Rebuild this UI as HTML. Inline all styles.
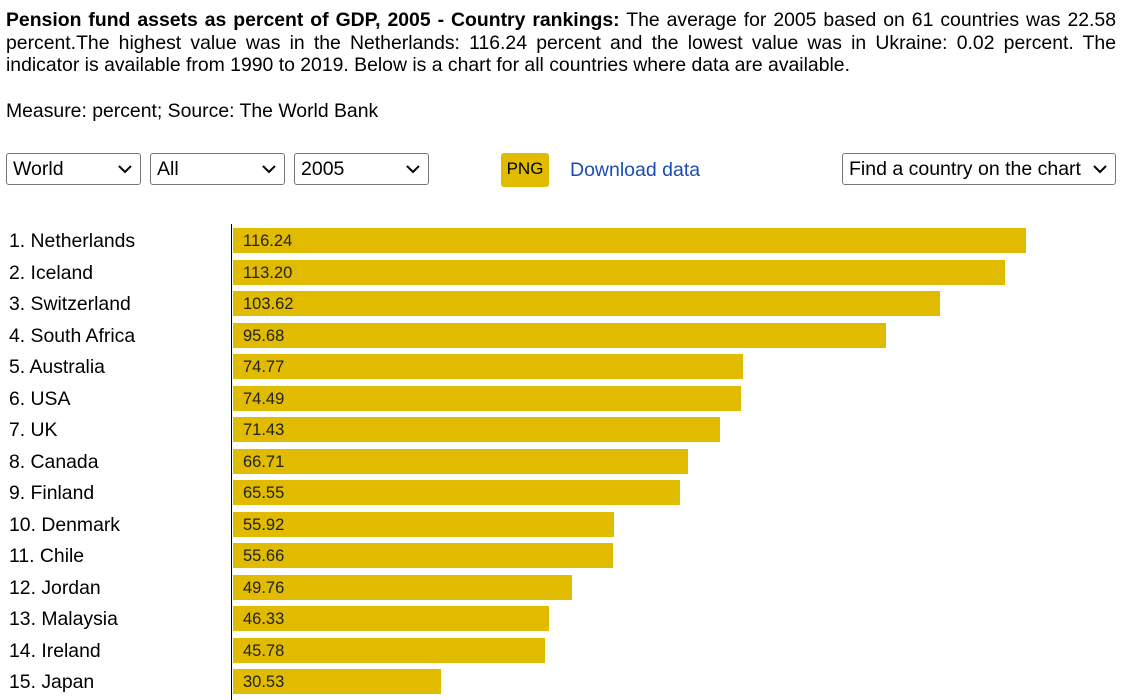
<!DOCTYPE html>
<html><head><style>
body{margin:0;width:1123px;height:700px;overflow:hidden;background:#fff;font-family:"Liberation Sans",Arial,sans-serif;color:#000;position:relative}
.p{position:absolute;left:6px;width:1110px;font-size:19.4px;line-height:22.5px;margin:0}
.p div{text-align:justify;text-align-last:justify;white-space:nowrap}
.p div.l{text-align-last:left}
.sel{position:absolute;top:153px;height:32px;border:1px solid #777;border-radius:3px;box-sizing:border-box;font-size:19.5px;line-height:31px;padding-left:6px}
.sel svg{position:absolute;right:8px;top:11px}
.lab{position:absolute;left:9px;font-size:19.4px;line-height:22px}
.bar{position:absolute;left:233px;height:25px;background:#e0bb00;font-size:16.5px;line-height:26px;padding-left:10px;box-sizing:border-box;color:#222}
</style></head><body>
<div class="p" style="top:9px"><div><b>Pension fund assets as percent of GDP, 2005 - Country rankings:</b> The average for 2005 based on 61 countries was 22.58</div><div>percent.The highest value was in the Netherlands: 116.24 percent and the lowest value was in Ukraine: 0.02 percent. The</div><div class="l">indicator is available from 1990 to 2019. Below is a chart for all countries where data are available.</div></div>
<div class="p" style="top:100px">Measure: percent; Source: The World Bank</div>
<div class="sel" style="left:6px;width:135px">World<svg width="14" height="9"><path d="M1 1l6 6 6-6" stroke="#000" stroke-width="2" fill="none"/></svg></div>
<div class="sel" style="left:150px;width:135px">All<svg width="14" height="9"><path d="M1 1l6 6 6-6" stroke="#000" stroke-width="2" fill="none"/></svg></div>
<div class="sel" style="left:294px;width:135px">2005<svg width="14" height="9"><path d="M1 1l6 6 6-6" stroke="#000" stroke-width="2" fill="none"/></svg></div>
<div style="position:absolute;left:501px;top:153px;width:48px;height:34px;background:#e0bb00;border-radius:3px;font-size:17px;line-height:32px;text-align:center">PNG</div>
<div style="position:absolute;left:570px;top:159px;font-size:19.5px;color:#1a4db3">Download data</div>
<div class="sel" style="left:842px;width:274px">Find a country on the chart<svg width="14" height="9"><path d="M1 1l6 6 6-6" stroke="#000" stroke-width="2" fill="none"/></svg></div>
<div style="position:absolute;left:231px;top:224px;width:1px;height:476px;background:#000"></div>
<div id="c"></div>
<script>
var d=[["Netherlands",116.24],["Iceland",113.20],["Switzerland",103.62],["South Africa",95.68],["Australia",74.77],["USA",74.49],["UK",71.43],["Canada",66.71],["Finland",65.55],["Denmark",55.92],["Chile",55.66],["Jordan",49.76],["Malaysia",46.33],["Ireland",45.78],["Japan",30.53]];
var h="";d.forEach(function(r,i){var y=228+i*31.5;h+='<div class="lab" style="top:'+(y+2)+'px">'+(i+1)+'. '+r[0]+'</div><div class="bar" style="top:'+y+'px;width:'+(r[1]*6.82).toFixed(1)+'px">'+r[1].toFixed(2)+'</div>';});
document.getElementById("c").innerHTML=h;
</script>
</body></html>
